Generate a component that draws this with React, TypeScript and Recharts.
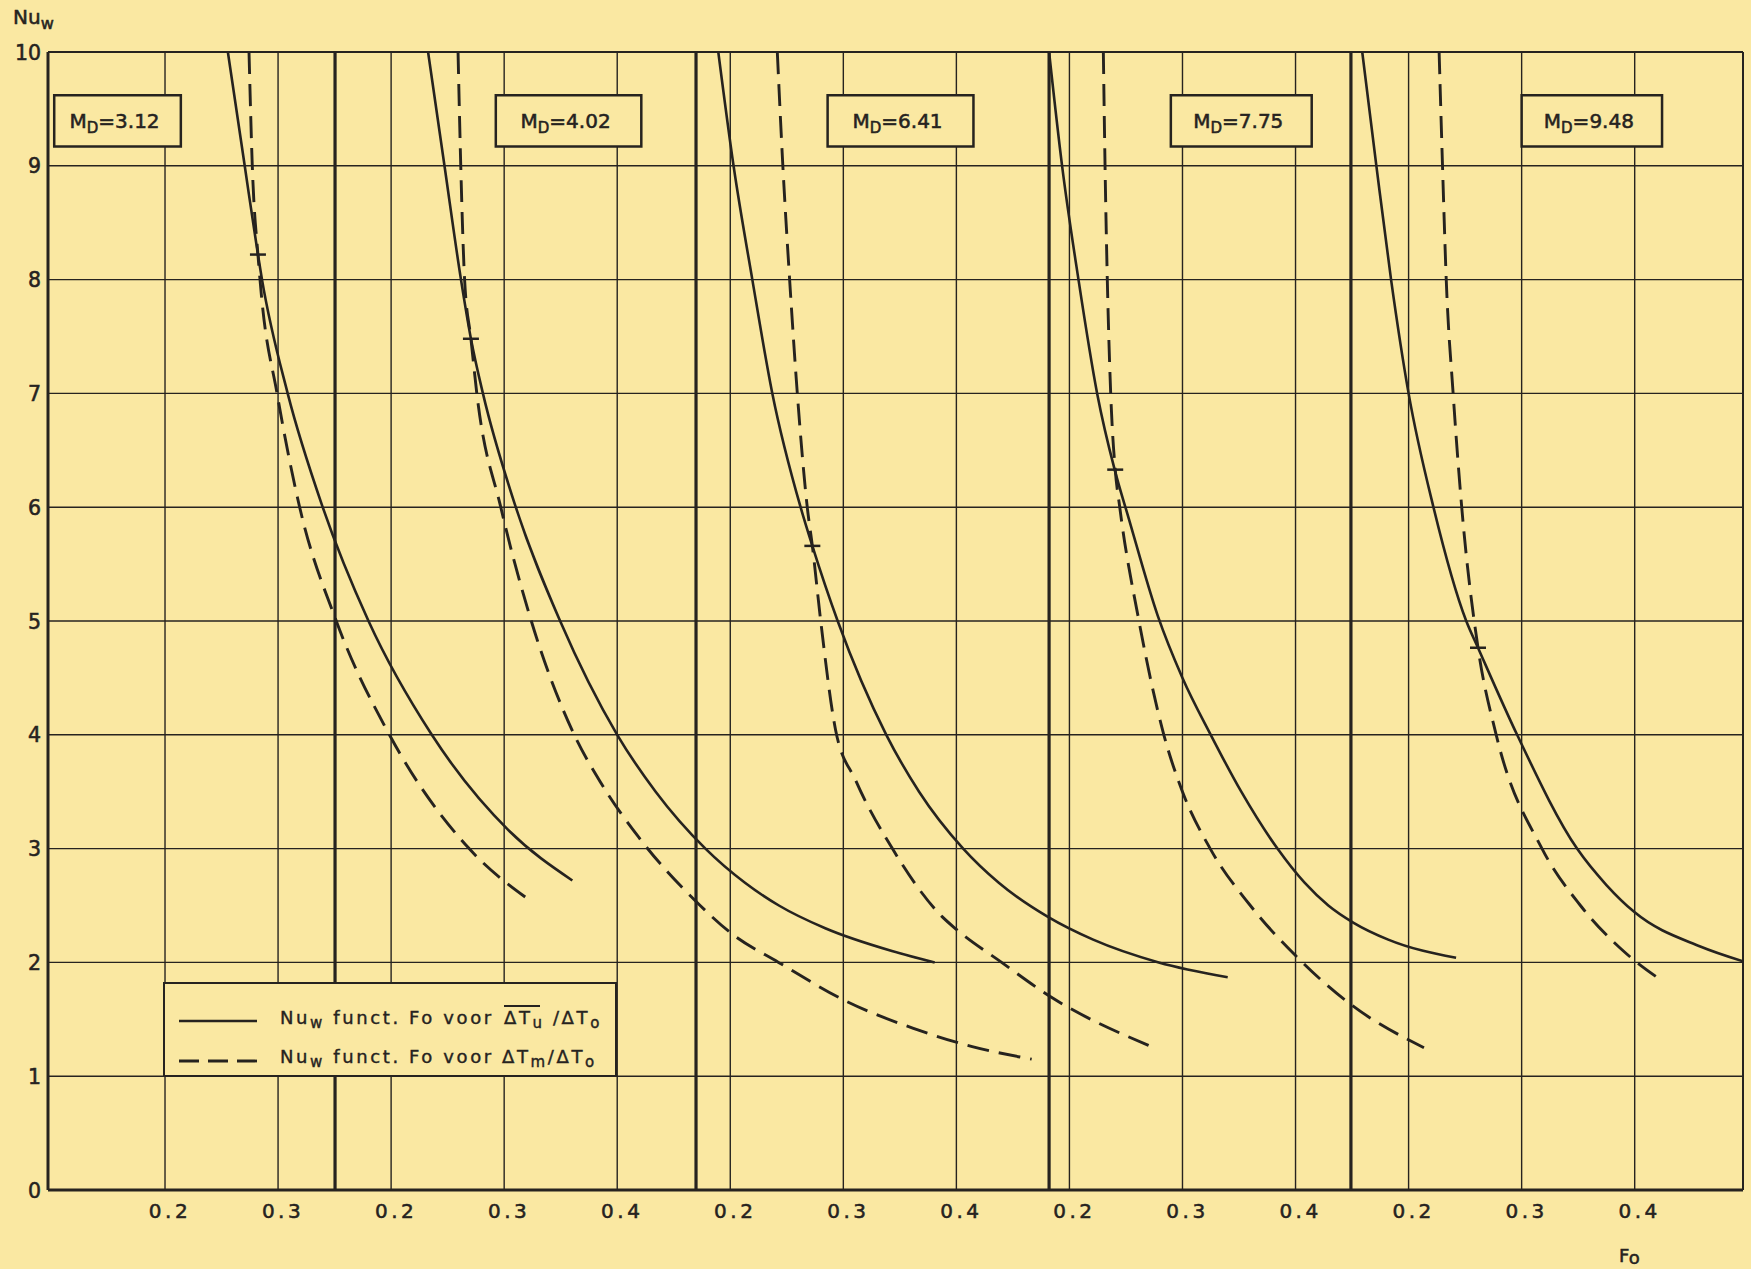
import React from 'react';
import {
  ComposedChart,
  Line,
  Scatter,
  XAxis,
  YAxis,
  CartesianGrid,
  ReferenceLine,
  ReferenceArea,
  Legend,
} from 'recharts';

// ---------- data ----------
const yTicks = [0, 1, 2, 3, 4, 5, 6, 7, 8, 9, 10];

// each panel has its own Fo scale; panels are laid side by side on one sheet
const panelOffsets = [0, 0.2, 0.5, 0.8, 1.1];
const panelStartFo = [0.0965, 0.1504, 0.1697, 0.182, 0.149];
const lastPanelEndFo = 0.4958;
const panelTickLabels = [
  [0.2, 0.3],
  [0.2, 0.3, 0.4],
  [0.2, 0.3, 0.4],
  [0.2, 0.3, 0.4],
  [0.2, 0.3, 0.4],
];
const mdValues = ['3.12', '4.02', '6.41', '7.75', '9.48'];
const mdBoxFo = [
  [0.102, 0.214],
  [0.2926, 0.4213],
  [0.2861, 0.4151],
  [0.2897, 0.4143],
  [0.3, 0.4242],
];
const mdBoxNu = [9.17, 9.62];

// Nu_w vs Fo, solid: mean temperature difference ratio
const solid1 = [[0.2556, 10], [0.2705, 9], [0.2822, 8.22], [0.2858, 8], [0.3085, 7], [0.3395, 6], [0.38, 5], [0.436, 4], [0.505, 3.15], [0.5603, 2.72]];
const solid2 = [[0.2327, 10], [0.2472, 9], [0.2618, 8], [0.2706, 7.48], [0.2812, 7], [0.3103, 6], [0.3495, 5], [0.4, 4], [0.434, 3.5], [0.478, 3], [0.513, 2.7], [0.543, 2.5], [0.584, 2.3], [0.643, 2.1], [0.6808, 2.0]];
const solid3 = [[0.1894, 10], [0.2029, 9], [0.2195, 8], [0.2372, 7], [0.2622, 6], [0.2726, 5.66], [0.295, 5], [0.338, 4], [0.367, 3.5], [0.406, 3], [0.4375, 2.7], [0.481, 2.4], [0.521, 2.2], [0.579, 2.0], [0.64, 1.87]];
const solid4 = [[0.182, 10], [0.1935, 9], [0.208, 8], [0.2245, 7], [0.24, 6.33], [0.2525, 5.9], [0.278, 5.05], [0.3, 4.5], [0.325, 4], [0.352, 3.5], [0.384, 3], [0.408, 2.7], [0.429, 2.5], [0.451, 2.35], [0.482, 2.2], [0.542, 2.04]];
const solid5 = [[0.159, 10], [0.1715, 9], [0.1845, 8], [0.2, 7], [0.222, 6], [0.251, 5], [0.2614, 4.765], [0.296, 4], [0.349, 3], [0.375, 2.68], [0.4, 2.44], [0.458, 2.14], [0.4958, 2.01]];

// dashed: local temperature difference ratio
const dashed1 = [[0.2743, 10], [0.2772, 9], [0.2822, 8.22], [0.2853, 7.86], [0.2991, 7], [0.3191, 6], [0.3515, 5], [0.3985, 4], [0.469, 3], [0.522, 2.55]];
const dashed2 = [[0.2592, 10], [0.2616, 9], [0.265, 8], [0.2706, 7.48], [0.2758, 7], [0.297, 6], [0.324, 5], [0.362, 4], [0.3848, 3.59], [0.419, 3.1], [0.4693, 2.54], [0.5016, 2.25], [0.5427, 2], [0.6044, 1.65], [0.662, 1.42], [0.714, 1.26], [0.7666, 1.15]];
const dashed3 = [[0.2416, 10], [0.2465, 9], [0.2525, 8], [0.2593, 7], [0.2681, 6], [0.2726, 5.66], [0.28, 5], [0.2932, 4.04], [0.3109, 3.6], [0.3434, 3], [0.3876, 2.4], [0.4, 2.29], [0.44, 2.0], [0.483, 1.7], [0.57, 1.27]];
const dashed4 = [[0.23, 10], [0.2315, 9], [0.2335, 8], [0.2365, 7], [0.2405, 6.33], [0.2445, 6], [0.2615, 5], [0.2835, 4], [0.3, 3.5], [0.3245, 3], [0.36, 2.5], [0.4, 2.06], [0.449, 1.63], [0.5136, 1.25]];
const dashed5 = [[0.227, 10], [0.23, 9], [0.2333, 8], [0.2394, 7], [0.247, 6], [0.2614, 4.765], [0.2775, 4], [0.318, 3], [0.352, 2.5], [0.39, 2.1], [0.424, 1.84]];

// crossing marks
const crossPoints = [[0.2822, 8.22], [0.2706, 7.48], [0.2726, 5.66], [0.2405, 6.33], [0.2614, 4.765]];

// ---------- styling / derived ----------
const W = 1751;
const H = 1269;
const BG = '#FAE8A2';
const INK = '#26231f';
const FONT = '"DejaVu Sans", Verdana, sans-serif';

const solidCurves = [solid1, solid2, solid3, solid4, solid5];
const dashedCurves = [dashed1, dashed2, dashed3, dashed4, dashed5];

const toSeries = (pts: number[][], i: number) =>
  pts.map(([fo, nu]) => ({ x: panelOffsets[i] + fo, y: nu }));

const xMin = panelOffsets[0] + panelStartFo[0];
const xMax = panelOffsets[4] + lastPanelEndFo;
const xTicks = panelTickLabels.flatMap((labs, i) =>
  labs.map((l) => Math.round((panelOffsets[i] + l) * 1000) / 1000)
);
const xTickText = panelTickLabels.flat();
const separators = panelStartFo.slice(1).map((s, k) => panelOffsets[k + 1] + s);
const crossData = crossPoints.map(([fo, nu], i) => ({ x: panelOffsets[i] + fo, y: nu }));

const textInk = { fill: INK, stroke: INK, strokeWidth: 0.55, fontFamily: FONT };

const renderXTick = (props: any) => {
  const { x, y, payload } = props;
  const idx = xTicks.findIndex((t) => Math.abs(t - payload.value) < 1e-6);
  const label = idx >= 0 ? xTickText[idx].toFixed(1) : '';
  return (
    <text x={x + 5} y={y} dy={28} textAnchor="middle" {...textInk} fontSize={20} letterSpacing={3.5}>
      {label}
    </text>
  );
};

const renderYTick = (props: any) => {
  const { x, y, payload } = props;
  return (
    <text x={x} y={y} dy={7.5} textAnchor="end" {...textInk} fontSize={20.5}>
      {payload.value}
    </text>
  );
};

const NuLabel = (props: any) => {
  const vb = props.viewBox || { x: 8, y: 52 };
  return (
    <text x={vb.x + 5} y={vb.y - 28} {...textInk} fontSize={20}>
      Nu
      <tspan dy={5} fontSize={16}>w</tspan>
    </text>
  );
};

const FoLabel = (props: any) => {
  const vb = props.viewBox || { x: 48, y: 1190, width: 1695 };
  return (
    <text x={vb.x + vb.width - 124} y={vb.y + 72} {...textInk} fontSize={18}>
      F
      <tspan dy={2}>o</tspan>
    </text>
  );
};

const makeMDLabel = (md: string) => (props: any) => {
  const vb = props.viewBox;
  if (!vb) return null;
  const cx = vb.x + vb.width / 2;
  const cy = vb.y + vb.height / 2;
  return (
    <text x={cx - 3} y={cy + 7} textAnchor="middle" {...textInk} fontSize={20}>
      M
      <tspan dy={5} fontSize={15}>D</tspan>
      <tspan dy={-5}>={md}</tspan>
    </text>
  );
};

const crossShape = (props: any) => {
  const { cx, cy } = props;
  return <line x1={cx - 8} x2={cx + 8} y1={cy} y2={cy} stroke={INK} strokeWidth={2.5} />;
};

const legendText = { ...textInk, strokeWidth: 0.4, fontSize: 18, letterSpacing: 2.6 };

const LegendBox = () => (
  <div
    style={{
      width: 454,
      height: 95,
      boxSizing: 'border-box',
      border: `2.5px solid ${INK}`,
      background: BG,
      position: 'relative',
    }}
  >
    <svg width={450} height={91} style={{ position: 'absolute', left: 0, top: 0 }}>
      <line x1={14} x2={92} y1={37} y2={37} stroke={INK} strokeWidth={2.6} />
      <line x1={14} x2={92} y1={77} y2={77} stroke={INK} strokeWidth={2.8} strokeDasharray="20 9" />
      <text x={115} y={40} {...legendText}>
        Nu
        <tspan dy={4} fontSize={15}>w</tspan>
        <tspan dy={-4}> funct. Fo voor</tspan>
      </text>
      <text x={339} y={40} {...legendText}>
        ΔT
        <tspan dy={4} fontSize={15}>u</tspan>
        <tspan dy={-4}> /ΔT</tspan>
        <tspan dy={4} fontSize={15}>o</tspan>
      </text>
      <line x1={339} x2={375} y1={22} y2={22} stroke={INK} strokeWidth={2} />
      <text x={115} y={79} {...legendText}>
        Nu
        <tspan dy={4} fontSize={15}>w</tspan>
        <tspan dy={-4}> funct. Fo voor ΔT</tspan>
        <tspan dy={4} fontSize={15}>m</tspan>
        <tspan dy={-4}>/ΔT</tspan>
        <tspan dy={4} fontSize={15}>o</tspan>
      </text>
    </svg>
  </div>
);

export default function App() {
  return (
    <div
      style={{
        position: 'absolute',
        left: 0,
        top: 0,
        width: W,
        height: H,
        background: BG,
        overflow: 'hidden',
      }}
    >
      <ComposedChart width={W} height={H} margin={{ top: 52, right: 8, bottom: 39, left: 8 }}>
        <CartesianGrid stroke={INK} strokeWidth={1.4} />
        <XAxis
          type="number"
          dataKey="x"
          domain={[xMin, xMax]}
          ticks={xTicks}
          interval={0}
          allowDataOverflow
          height={40}
          tickLine={false}
          tickSize={0}
          tickMargin={0}
          tick={renderXTick}
          axisLine={{ stroke: INK, strokeWidth: 3 }}
          label={{ content: FoLabel }}
        />
        <YAxis
          type="number"
          domain={[0, 10]}
          ticks={yTicks}
          interval={0}
          allowDataOverflow
          width={40}
          tickLine={false}
          tickSize={0}
          tickMargin={7}
          tick={renderYTick}
          axisLine={{ stroke: INK, strokeWidth: 3 }}
          label={{ content: NuLabel }}
        />
        <ReferenceLine y={10} stroke={INK} strokeWidth={2} />
        <ReferenceLine x={xMax} stroke={INK} strokeWidth={2} />
        {separators.map((s, k) => (
          <ReferenceLine key={`sep${k}`} x={s} stroke={INK} strokeWidth={3.2} />
        ))}
        {mdValues.map((md, i) => (
          <ReferenceArea
            key={`md${i}`}
            x1={panelOffsets[i] + mdBoxFo[i][0]}
            x2={panelOffsets[i] + mdBoxFo[i][1]}
            y1={mdBoxNu[0]}
            y2={mdBoxNu[1]}
            fill={BG}
            fillOpacity={1}
            stroke={INK}
            strokeWidth={2.5}
            label={{ content: makeMDLabel(md) }}
          />
        ))}
        {solidCurves.map((c, i) => (
          <Line
            key={`s${i}`}
            data={toSeries(c, i)}
            dataKey="y"
            type="monotone"
            stroke={INK}
            strokeWidth={2.6}
            dot={false}
            activeDot={false}
            isAnimationActive={false}
            legendType="none"
            name={`Nuw funct. Fo voor ΔTu/ΔTo (MD=${mdValues[i]})`}
          />
        ))}
        {dashedCurves.map((c, i) => (
          <Line
            key={`d${i}`}
            data={toSeries(c, i)}
            dataKey="y"
            type="monotone"
            stroke={INK}
            strokeWidth={2.9}
            strokeDasharray="22 10"
            dot={false}
            activeDot={false}
            isAnimationActive={false}
            legendType="none"
            name={`Nuw funct. Fo voor ΔTm/ΔTo (MD=${mdValues[i]})`}
          />
        ))}
        <Scatter data={crossData} dataKey="y" shape={crossShape} isAnimationActive={false} legendType="none" />
        <Legend
          layout="vertical"
          align="center"
          verticalAlign="middle"
          wrapperStyle={{ left: 163, top: 982, width: 454, height: 95 }}
          content={LegendBox}
        />
      </ComposedChart>
    </div>
  );
}
